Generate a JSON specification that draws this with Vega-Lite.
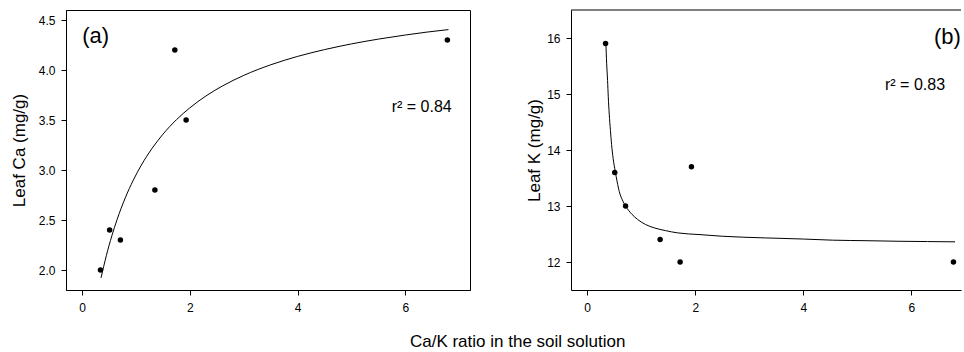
{
  "$schema": "https://vega.github.io/schema/vega-lite/v6.json",
  "padding": {"left": 9, "top": 9, "right": 0, "bottom": 2},
  "background": "white",
  "config": {
    "font": "Liberation Sans",
    "view": {"stroke": "black", "strokeWidth": 1},
    "axis": {
      "grid": false,
      "domainColor": "black",
      "tickColor": "black",
      "labelColor": "black",
      "titleColor": "black",
      "labelFont": "Liberation Sans",
      "titleFont": "Liberation Sans",
      "labelFontSize": 12,
      "titleFontSize": 17,
      "titleFontWeight": "normal",
      "tickSize": 5
    }
  },
  "title": {
    "text": "Ca/K ratio in the soil solution",
    "orient": "bottom",
    "anchor": "middle",
    "font": "Liberation Sans",
    "fontSize": 17,
    "fontWeight": "normal",
    "color": "black",
    "offset": 20,
    "dx": 32
  },
  "datasets": {
    "pts": [
      {"ratio": 0.34, "ca": 2.0, "k": 15.9},
      {"ratio": 0.51, "ca": 2.4, "k": 13.6},
      {"ratio": 0.71, "ca": 2.3, "k": 13.0},
      {"ratio": 1.35, "ca": 2.8, "k": 12.4},
      {"ratio": 1.72, "ca": 4.2, "k": 12.0},
      {"ratio": 1.93, "ca": 3.5, "k": 13.7},
      {"ratio": 6.78, "ca": 4.3, "k": 12.0}
    ],
    "fitA": [
      {"x": 0.35, "y": 1.921},
      {"x": 0.45, "y": 2.146},
      {"x": 0.55, "y": 2.34},
      {"x": 0.65, "y": 2.507},
      {"x": 0.8, "y": 2.721},
      {"x": 0.95, "y": 2.899},
      {"x": 1.1, "y": 3.05},
      {"x": 1.3, "y": 3.218},
      {"x": 1.5, "y": 3.358},
      {"x": 1.75, "y": 3.503},
      {"x": 2.0, "y": 3.622},
      {"x": 2.3, "y": 3.741},
      {"x": 2.6, "y": 3.839},
      {"x": 3.0, "y": 3.946},
      {"x": 3.5, "y": 4.052},
      {"x": 4.0, "y": 4.136},
      {"x": 4.5, "y": 4.204},
      {"x": 5.0, "y": 4.261},
      {"x": 5.5, "y": 4.309},
      {"x": 6.0, "y": 4.35},
      {"x": 6.4, "y": 4.379},
      {"x": 6.8, "y": 4.404}
    ],
    "fitB": [
      {"x": 0.346, "y": 15.9},
      {"x": 0.36, "y": 15.55},
      {"x": 0.377, "y": 15.24},
      {"x": 0.39, "y": 14.95},
      {"x": 0.408, "y": 14.64},
      {"x": 0.43, "y": 14.35},
      {"x": 0.451, "y": 14.1},
      {"x": 0.48, "y": 13.85},
      {"x": 0.519, "y": 13.62},
      {"x": 0.555, "y": 13.43},
      {"x": 0.593, "y": 13.26},
      {"x": 0.65, "y": 13.11},
      {"x": 0.717, "y": 12.99},
      {"x": 0.82, "y": 12.86},
      {"x": 0.933, "y": 12.76},
      {"x": 1.08, "y": 12.67},
      {"x": 1.24, "y": 12.61},
      {"x": 1.45, "y": 12.56},
      {"x": 1.674, "y": 12.52},
      {"x": 2.07, "y": 12.49},
      {"x": 2.5, "y": 12.46},
      {"x": 3.3, "y": 12.43},
      {"x": 4.0, "y": 12.41},
      {"x": 4.54, "y": 12.39},
      {"x": 5.2, "y": 12.38},
      {"x": 5.77, "y": 12.37},
      {"x": 6.3, "y": 12.365},
      {"x": 6.81, "y": 12.36}
    ],
    "one": [{}]
  },
  "spacing": 54,
  "hconcat": [
    {
      "width": 404,
      "height": 280,
      "layer": [
        {
          "data": {"name": "fitA"},
          "mark": {"type": "line", "color": "black", "strokeWidth": 1, "interpolate": "monotone"},
          "encoding": {
            "x": {"field": "x", "type": "quantitative",
              "scale": {"domain": [-0.3, 7.2], "nice": false, "zero": false},
              "axis": {"title": null, "values": [0, 2, 4, 6], "format": "d", "labelPadding": 7}},
            "y": {"field": "y", "type": "quantitative",
              "scale": {"domain": [1.8, 4.6], "nice": false, "zero": false},
              "axis": {"title": "Leaf Ca (mg/g)", "values": [2.0, 2.5, 3.0, 3.5, 4.0, 4.5], "format": ".1f", "labelPadding": 6, "titlePadding": 10}}
          }
        },
        {
          "data": {"name": "pts"},
          "mark": {"type": "point", "filled": true, "color": "black", "size": 30, "opacity": 1},
          "encoding": {
            "x": {"field": "ratio", "type": "quantitative"},
            "y": {"field": "ca", "type": "quantitative"}
          }
        },
        {
          "data": {"name": "one"},
          "mark": {"type": "text", "align": "left", "baseline": "middle", "fontSize": 22, "color": "black"},
          "encoding": {"x": {"datum": 0.0}, "y": {"datum": 4.337}, "text": {"value": "(a)"}}
        },
        {
          "data": {"name": "one"},
          "mark": {"type": "text", "align": "left", "baseline": "alphabetic", "fontSize": 16, "color": "black"},
          "encoding": {"x": {"datum": 5.746}, "y": {"datum": 3.585}, "text": {"value": "r² = 0.84"}}
        }
      ]
    },
    {
      "width": 390,
      "height": 280,
      "view": {"stroke": null},
      "layer": [
        {
          "data": {"name": "fitB"},
          "mark": {"type": "line", "color": "black", "strokeWidth": 1, "interpolate": "monotone"},
          "encoding": {
            "x": {"field": "x", "type": "quantitative",
              "scale": {"domain": [-0.3, 6.92], "nice": false, "zero": false},
              "axis": {"title": null, "values": [0, 2, 4, 6], "format": "d", "labelPadding": 7}},
            "y": {"field": "y", "type": "quantitative",
              "scale": {"domain": [11.5, 16.5], "nice": false, "zero": false},
              "axis": {"title": "Leaf K (mg/g)", "values": [12, 13, 14, 15, 16], "format": "d", "labelPadding": 6, "titlePadding": 3}}
          }
        },
        {
          "data": {"name": "pts"},
          "mark": {"type": "point", "filled": true, "color": "black", "size": 30, "opacity": 1},
          "encoding": {
            "x": {"field": "ratio", "type": "quantitative"},
            "y": {"field": "k", "type": "quantitative"}
          }
        },
        {
          "data": {"name": "one"},
          "mark": {"type": "rule", "color": "black", "strokeWidth": 1},
          "encoding": {"y": {"datum": 16.5}}
        },
        {
          "data": {"name": "one"},
          "mark": {"type": "text", "align": "left", "baseline": "middle", "fontSize": 22, "color": "black"},
          "encoding": {"x": {"datum": 6.42}, "y": {"datum": 16.02}, "text": {"value": "(b)"}}
        },
        {
          "data": {"name": "one"},
          "mark": {"type": "text", "align": "left", "baseline": "alphabetic", "fontSize": 16, "color": "black"},
          "encoding": {"x": {"datum": 5.513}, "y": {"datum": 15.07}, "text": {"value": "r² = 0.83"}}
        }
      ]
    }
  ]
}
